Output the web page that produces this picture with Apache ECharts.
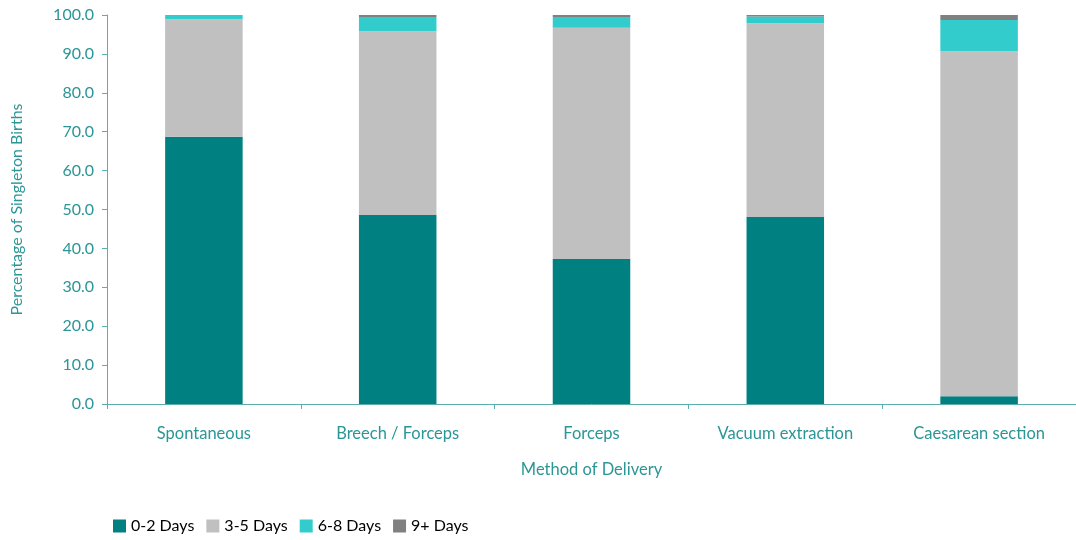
<!DOCTYPE html>
<html><head><meta charset="utf-8">
<script src="https://cdn.jsdelivr.net/npm/echarts@6/dist/echarts.min.js"></script>
<style>html,body{margin:0;padding:0;background:#fff}#c{width:1076px;height:540px}</style>
</head><body><div id="c"></div>
<script>
const categories = ['Spontaneous', 'Breech / Forceps', 'Forceps', 'Vacuum extraction', 'Caesarean section'];
const seriesNames = ['0-2 Days', '3-5 Days', '6-8 Days', '9+ Days'];
const days0to2 = [68.7, 48.6, 37.3, 48.1, 2.0];
const days3to5 = [30.2, 47.2, 59.4, 49.8, 88.7];
const days6to8 = [1.1, 3.7, 2.8, 1.7, 8.0];
const days9plus = [0.0, 0.5, 0.5, 0.4, 1.3];
const colors = ['#008080', '#C0C0C0', '#33CCCC', '#808080'];
const teal = '#2b9696';
const font = 'Lato, "Open Sans", sans-serif';
const chart = echarts.init(document.getElementById('c'));
const values = [days0to2, days3to5, days6to8, days9plus];
chart.setOption({
  animation: false,
  textStyle: {fontFamily: font},
  grid: {left: 107, right: -1, top: 15, bottom: 136, containLabel: false},
  legend: {
    left: 108, bottom: 1, itemWidth: 13, itemHeight: 13, itemGap: 12, icon: 'rect',
    textStyle: {fontFamily: font, fontSize: 16, color: '#000'},
    data: seriesNames
  },
  xAxis: {
    type: 'category', data: categories,
    name: 'Method of Delivery', nameLocation: 'middle', nameGap: 57,
    nameTextStyle: {fontFamily: font, fontSize: 16.5, color: teal},
    axisLine: {lineStyle: {color: '#5aaeae', width: 1}},
    axisTick: {show: true, interval: 0, length: 5, lineStyle: {color: '#5aaeae'}},
    axisLabel: {fontFamily: font, fontSize: 16.5, color: teal, margin: 21, interval: 0}
  },
  yAxis: {
    type: 'value', min: 0, max: 100, interval: 10,
    name: 'Percentage of Singleton Births', nameLocation: 'middle', nameGap: 82,
    nameTextStyle: {fontFamily: font, fontSize: 16, color: teal},
    axisLine: {show: true, lineStyle: {color: '#5aaeae', width: 1}},
    axisTick: {show: true, length: 5, lineStyle: {color: '#5aaeae'}},
    splitLine: {show: false},
    axisLabel: {fontFamily: font, fontSize: 16, color: teal, margin: 13, formatter: v => v.toFixed(1)}
  },
  series: seriesNames.map((n, i) => ({
    name: n, type: 'bar', stack: 'total', data: values[i], barWidth: '40%',
    itemStyle: {color: colors[i]}
  }))
});
</script></body></html>
